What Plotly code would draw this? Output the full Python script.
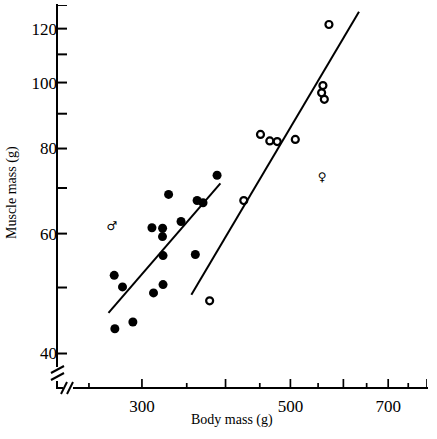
import plotly.graph_objects as go

# Filled circles (group 1)
filled_body = [388.5, 328.8, 362.7, 370.2, 343.2, 310.5, 322.1, 322.0, 322.6, 360.5,
               272.7, 280.6, 322.6, 312.2, 290.8, 273.3]
filled_muscle = [73.1, 68.5, 67.1, 66.6, 62.5, 61.2, 61.1, 59.4, 55.7, 55.9,
                 52.1, 50.1, 50.5, 49.1, 44.5, 43.5]

# Open circles (group 2)
open_body = [570.9, 559.2, 556.7, 561.9, 451.1, 465.8, 477.8, 508.5, 425.9, 378.7]
open_muscle = [121.7, 99.0, 96.6, 94.5, 83.9, 82.1, 81.9, 82.5, 67.1, 47.8]

# Sex-symbol points
male_body = [270.5]
male_muscle = [61.3]
female_body = [557.6]
female_muscle = [72.5]

# Fitted lines (end points)
line1_body = [267.4, 393.0]
line1_muscle = [45.9, 71.1]
line2_body = [355.6, 633.1]
line2_muscle = [48.8, 127.1]

# Axis ticks
y_tickvals = [40, 50, 60, 70, 80, 90, 100, 110, 120, 130]
y_ticktext = ["40", "", "60", "", "80", "", "100", "", "120", ""]
x_major = [300, 400, 500, 600, 700, 800]
x_major_text = ["300", "", "500", "", "700", ""]
x_minor = [250, 350, 450, 550, 650, 750]

X_RANGE = [2.3502, 2.9031]
Y_RANGE = [1.5514, 2.1139]

W, H = 437, 439
L, R, T, B = 57, 10, 5, 51
pw, ph = W - L - R, H - T - B

fig = go.Figure()

# inside tick marks as short line segments in data space (axis scales)
x_lo = 10 ** X_RANGE[0]
y_lo = 10 ** Y_RANGE[0]
x_tick_end = 10 ** (X_RANGE[0] + 10 * (X_RANGE[1] - X_RANGE[0]) / pw)
ytx, yty = [], []
for v in y_tickvals:
    ytx += [x_lo, x_tick_end, None]
    yty += [v, v, None]
fig.add_trace(go.Scatter(x=ytx, y=yty, mode="lines", cliponaxis=False,
                         line=dict(color="black", width=2), showlegend=False,
                         hoverinfo="skip"))
y_major_end = 10 ** (Y_RANGE[0] + 9 * (Y_RANGE[1] - Y_RANGE[0]) / ph)
y_minor_end = 10 ** (Y_RANGE[0] + 5 * (Y_RANGE[1] - Y_RANGE[0]) / ph)
xtx, xty = [], []
for v in x_major:
    xtx += [v, v, None]
    xty += [y_lo, y_major_end, None]
for v in x_minor:
    xtx += [v, v, None]
    xty += [y_lo, y_minor_end, None]
fig.add_trace(go.Scatter(x=xtx, y=xty, mode="lines", cliponaxis=False,
                         line=dict(color="black", width=1.7), showlegend=False,
                         hoverinfo="skip"))

fig.add_trace(go.Scatter(x=line1_body, y=line1_muscle, mode="lines",
                         line=dict(color="black", width=2), showlegend=False))
fig.add_trace(go.Scatter(x=line2_body, y=line2_muscle, mode="lines",
                         line=dict(color="black", width=2), showlegend=False))
fig.add_trace(go.Scatter(x=filled_body, y=filled_muscle, mode="markers",
                         marker=dict(symbol="circle", size=9, color="black"),
                         showlegend=False))
fig.add_trace(go.Scatter(x=open_body, y=open_muscle, mode="markers",
                         marker=dict(symbol="circle-open", size=7, color="black",
                                     line=dict(width=2.2, color="black")),
                         showlegend=False))
fig.add_trace(go.Scatter(x=male_body, y=male_muscle, mode="text", text=["♂"],
                         textfont=dict(family="DejaVu Sans", size=12, color="black"),
                         showlegend=False))
fig.add_trace(go.Scatter(x=female_body, y=female_muscle, mode="text", text=["♀"],
                         textfont=dict(family="DejaVu Sans", size=12, color="black"),
                         showlegend=False))

serif = "Liberation Serif"
fig.update_xaxes(type="log", range=X_RANGE, showline=False, zeroline=False,
                 showgrid=False, tickmode="array", tickvals=x_major, ticktext=x_major_text,
                 ticks="", tickfont=dict(family=serif, size=17, color="black"),
                 ticklabelstandoff=6)
fig.update_yaxes(type="log", range=Y_RANGE, showline=False, zeroline=False,
                 showgrid=False, tickmode="array", tickvals=y_tickvals, ticktext=y_ticktext,
                 ticks="", tickfont=dict(family=serif, size=17, color="black"),
                 ticklabelstandoff=-1)


def px(xp):
    return (xp - L) / pw


def py(yp):
    return (H - B - yp) / ph


shapes = []
lw = 2
# axis lines with breaks
shapes.append(dict(type="line", xref="paper", yref="paper", x0=0, x1=0,
                   y0=py(4), y1=py(367), line=dict(color="black", width=lw)))
shapes.append(dict(type="line", xref="paper", yref="paper", x0=0, x1=0,
                   y0=py(381), y1=py(389), line=dict(color="black", width=lw)))
for yy in (369, 376):
    shapes.append(dict(type="line", xref="paper", yref="paper", x0=px(51), x1=px(64),
                       y0=py(yy + 4), y1=py(yy - 3), line=dict(color="black", width=lw)))
shapes.append(dict(type="line", xref="paper", yref="paper", x0=px(56), x1=px(63),
                   y0=0, y1=0, line=dict(color="black", width=lw)))
shapes.append(dict(type="line", xref="paper", yref="paper", x0=px(73), x1=px(428),
                   y0=0, y1=0, line=dict(color="black", width=lw)))
for xx in (64, 70):
    shapes.append(dict(type="line", xref="paper", yref="paper", x0=px(xx - 3), x1=px(xx + 3),
                       y0=py(394), y1=py(382), line=dict(color="black", width=lw)))

fig.update_layout(
    width=W, height=H, margin=dict(l=L, r=R, t=T, b=B),
    paper_bgcolor="white", plot_bgcolor="white",
    shapes=shapes,
    annotations=[
        dict(text="Body mass (g)", xref="paper", yref="paper", x=px(232), y=py(420),
             xanchor="center", yanchor="middle", showarrow=False,
             font=dict(family=serif, size=14, color="black")),
        dict(text="Muscle mass (g)", xref="paper", yref="paper", x=px(12), y=py(193),
             xanchor="center", yanchor="middle", showarrow=False, textangle=-90,
             font=dict(family=serif, size=14, color="black")),
    ],
)

fig.write_html("out.html")
